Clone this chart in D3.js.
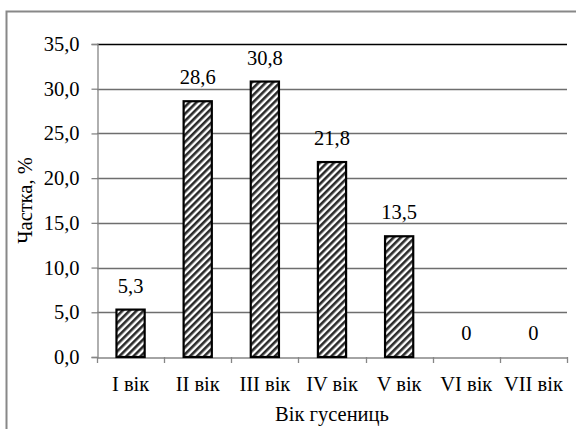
<!DOCTYPE html>
<meta charset="utf-8">
<style>
  body { margin: 0; background: #fff; }
</style>
<svg id="chart" width="576" height="429" font-family="Liberation Serif" font-size="21"></svg>
<script src="https://cdn.jsdelivr.net/npm/d3@7"></script>
<script>
  var categories = ["I вік", "II вік", "III вік", "IV вік", "V вік", "VI вік", "VII вік"];
  var values = [5.3, 28.6, 30.8, 21.8, 13.5, 0, 0];
  var yTicks = [0, 5, 10, 15, 20, 25, 30, 35];
  var yTitle = "Частка, %";
  var xTitle = "Вік гусениць";

  var font = "Liberation Serif";
  var fs = 20.5;
  var plotL = 97, plotR = 567, plotT = 44, plotB = 357;
  var fmt = function(v) { return v.toFixed(1).replace(".", ","); };

  var svg = d3.select("#chart");

  // hatch for the bars
  var defs = svg.append("defs");
  var pat = defs.append("pattern")
      .attr("id", "hatch")
      .attr("patternUnits", "userSpaceOnUse")
      .attr("width", 5).attr("height", 5)
      .attr("patternTransform", "rotate(45)");
  pat.append("rect").attr("width", 5).attr("height", 5).attr("fill", "#fff");
  pat.append("rect").attr("width", 2.6).attr("height", 5).attr("fill", "#2a2a2a");

  // outer frame
  svg.append("rect")
      .attr("x", 6.5).attr("y", 11.5)
      .attr("width", 600).attr("height", 500)
      .attr("fill", "none").attr("stroke", "#888").attr("stroke-width", 2);

  var x = d3.scaleBand().domain(categories).range([plotL, plotR]).paddingInner(0.58).paddingOuter(0.29);
  var xg = d3.scaleBand().domain(categories).range([plotL, plotR]);
  var y = d3.scaleLinear().domain([0, 35]).range([plotB, plotT]);

  // grid (top one is darker, like the source)
  svg.append("g").selectAll("line")
    .data(yTicks.filter(function(d) { return d > 0; }))
    .join("line")
      .attr("x1", plotL).attr("x2", plotR)
      .attr("y1", function(d) { return Math.round(y(d)) + 0.5; })
      .attr("y2", function(d) { return Math.round(y(d)) + 0.5; })
      .attr("stroke", function(d) { return d === 35 ? "#000" : "#6e6e6e"; })
      .attr("stroke-width", 1.3);

  // y axis
  var yAxis = svg.append("g")
      .attr("transform", "translate(" + (plotL + 0.5) + ",0)")
      .call(d3.axisLeft(y).tickValues(yTicks).tickFormat(fmt).tickSize(6).tickPadding(12))
      .attr("font-family", font).attr("font-size", fs);
  yAxis.selectAll("path, line").attr("stroke", "#868686").attr("stroke-width", 1.3);

  // x axis
  var xAxis = svg.append("g")
      .attr("transform", "translate(0," + (plotB + 0.5) + ")")
      .call(d3.axisBottom(xg).tickSize(0).tickPadding(19))
      .attr("font-family", font).attr("font-size", fs);
  xAxis.select("path").attr("stroke", "#868686").attr("stroke-width", 1.3);
  svg.append("g").selectAll("line")
    .data(d3.range(categories.length + 1))
    .join("line")
      .attr("x1", function(i) { return Math.round(plotL + i * xg.step()) + 0.5; })
      .attr("x2", function(i) { return Math.round(plotL + i * xg.step()) + 0.5; })
      .attr("y1", plotB).attr("y2", plotB + 6)
      .attr("stroke", "#868686").attr("stroke-width", 1.3);

  // bars
  svg.append("g").selectAll("rect")
    .data(values.map(function(v, i) { return { c: categories[i], v: v }; }).filter(function(d) { return d.v > 0; }))
    .join("rect")
      .attr("x", function(d) { return x(d.c); })
      .attr("y", function(d) { return y(d.v); })
      .attr("width", x.bandwidth())
      .attr("height", function(d) { return plotB - y(d.v); })
      .attr("fill", "url(#hatch)")
      .attr("stroke", "#000").attr("stroke-width", 2.2);

  // value labels
  svg.append("g").selectAll("text")
    .data(values.map(function(v, i) { return { c: categories[i], v: v }; }))
    .join("text")
      .attr("x", function(d) { return x(d.c) + x.bandwidth() / 2; })
      .attr("y", function(d) { return y(d.v) - 17; })
      .attr("text-anchor", "middle")
      .attr("font-family", font).attr("font-size", fs)
      .text(function(d) { return d.v === 0 ? "0" : fmt(d.v); });

  // titles
  svg.append("text")
      .attr("transform", "translate(32," + ((plotT + plotB) / 2) + ") rotate(-90)")
      .attr("text-anchor", "middle")
      .attr("font-family", font).attr("font-size", fs)
      .text(yTitle);

  svg.append("text")
      .attr("x", (plotL + plotR) / 2).attr("y", 421)
      .attr("text-anchor", "middle")
      .attr("font-family", font).attr("font-size", fs)
      .text(xTitle);
</script>
